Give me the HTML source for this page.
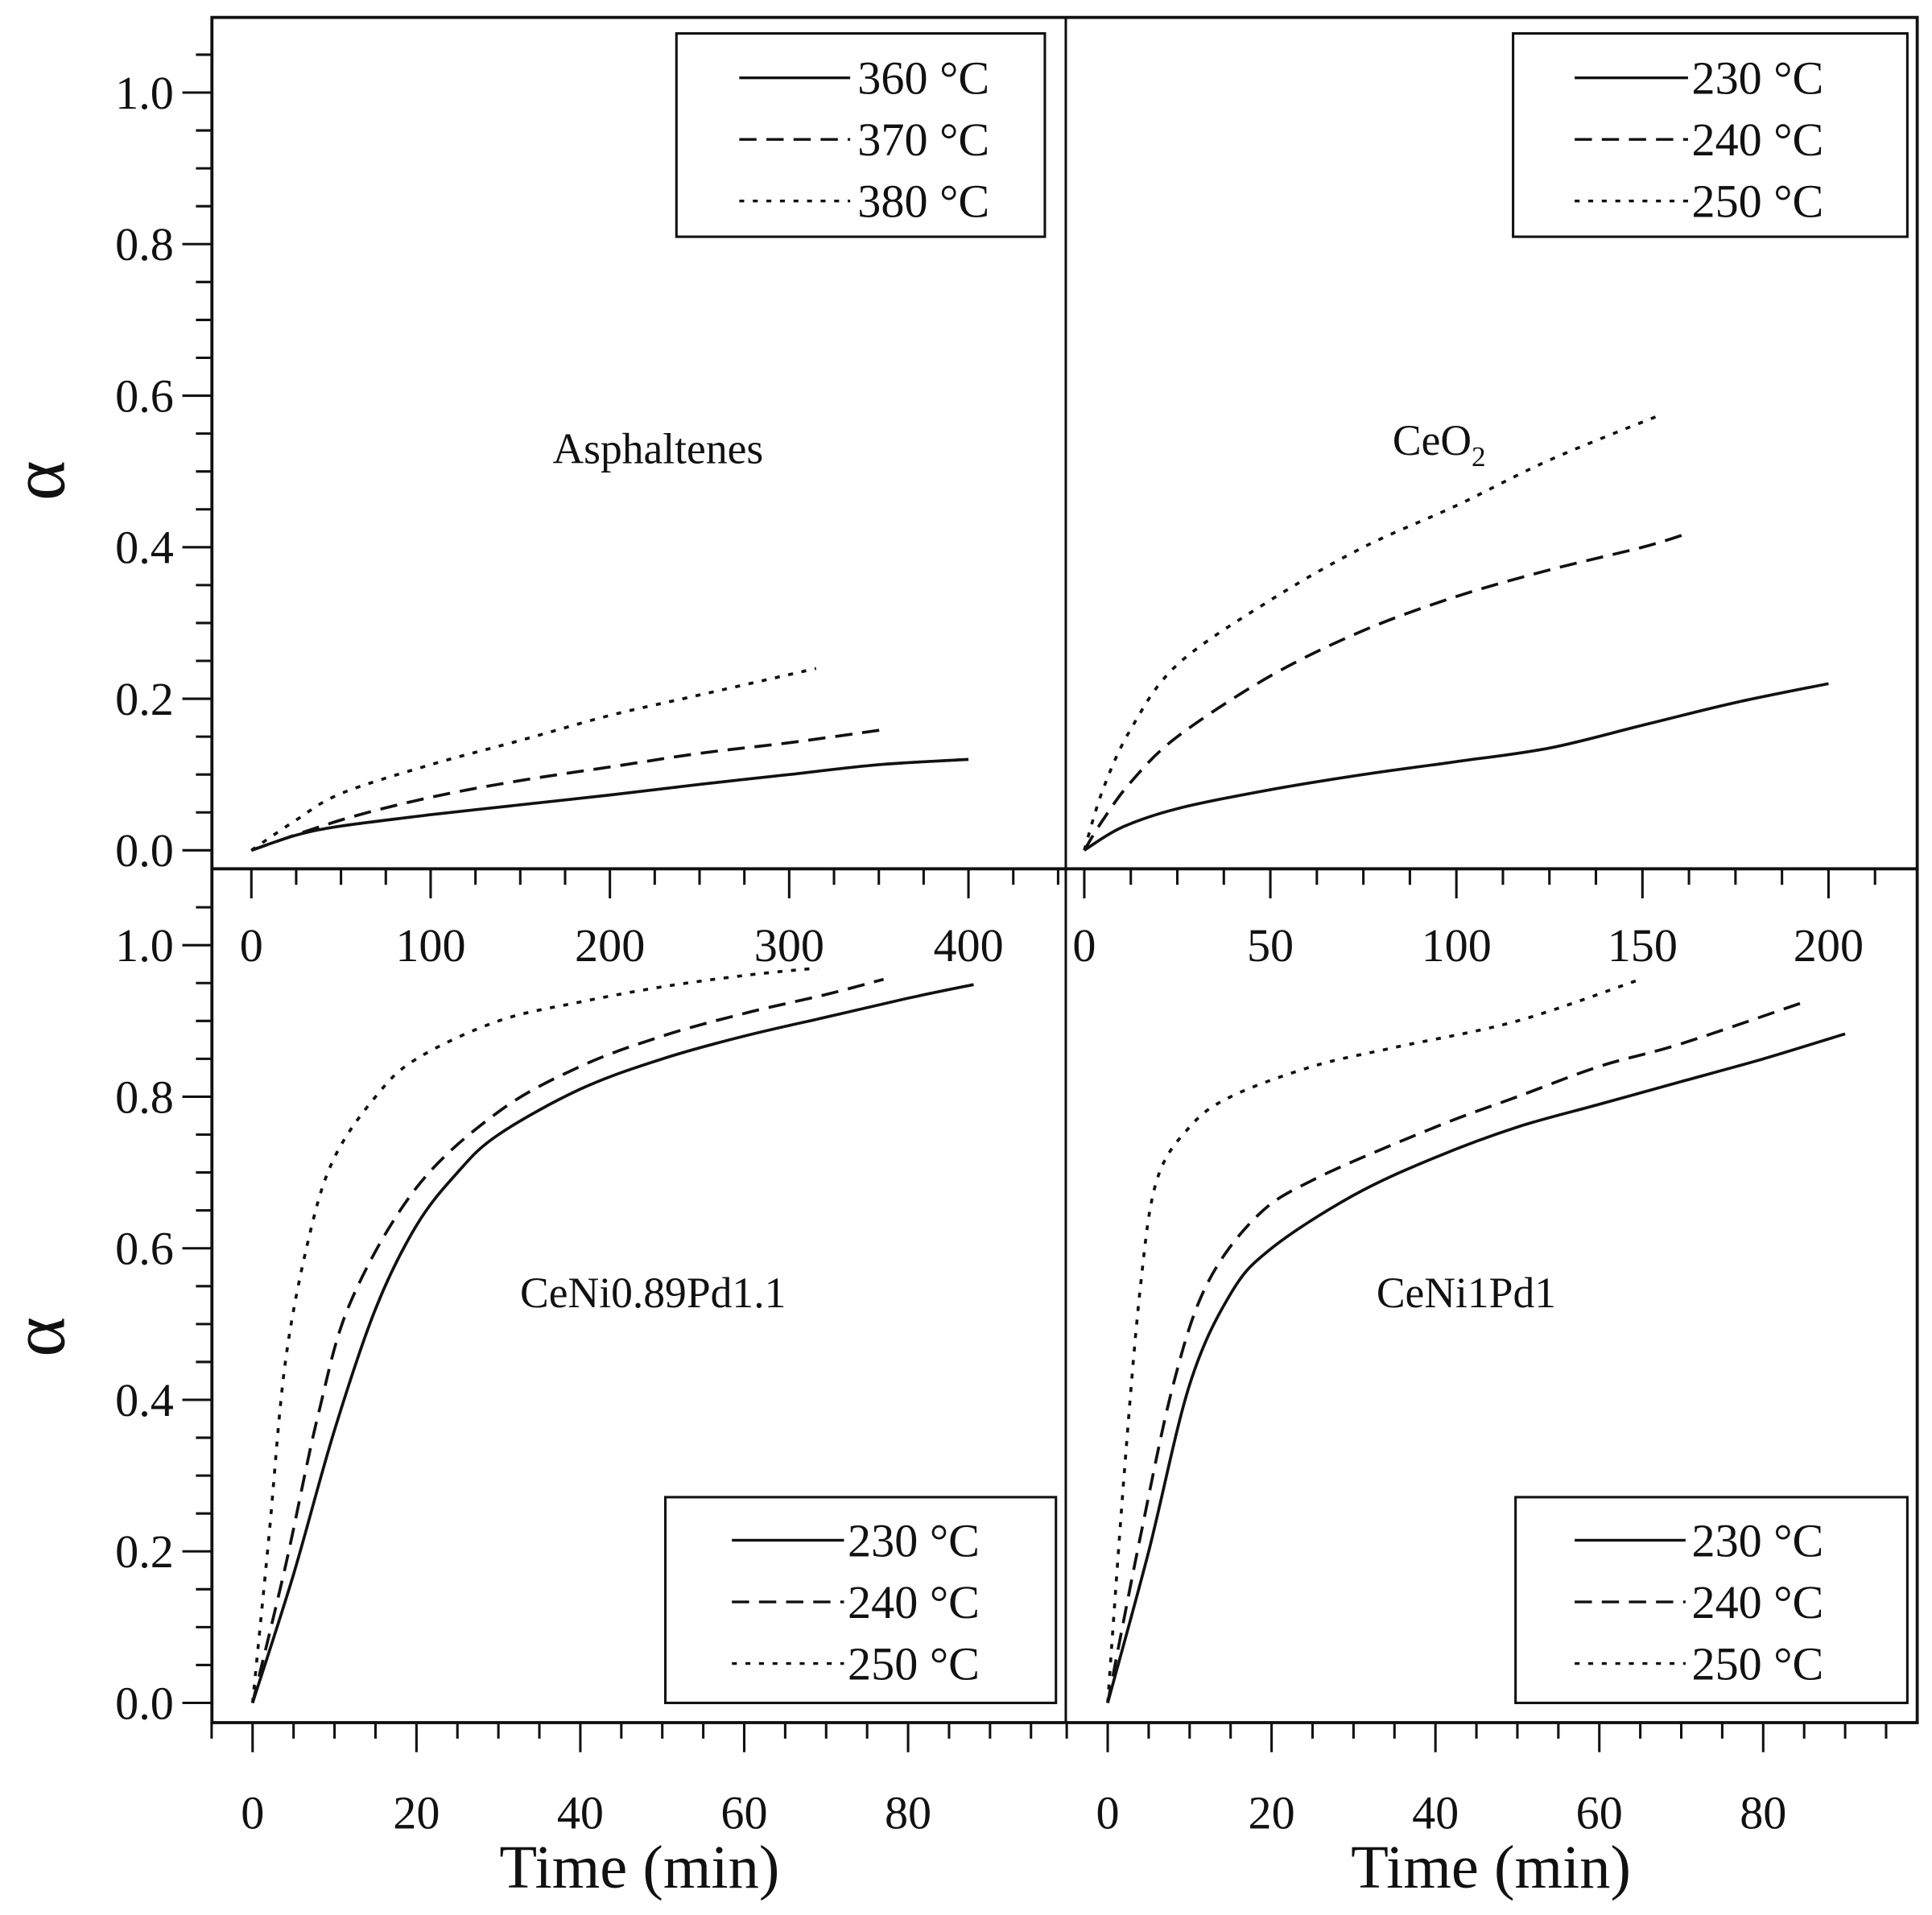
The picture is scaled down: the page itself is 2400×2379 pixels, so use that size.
<!DOCTYPE html>
<html><head><meta charset="utf-8"><style>
html,body{margin:0;padding:0;background:#fff}
svg{display:block}
text{font-family:"Liberation Serif",serif;fill:#111}
</style></head><body>
<svg id="chart" width="2400" height="2379" viewBox="0 0 1568 1554" xmlns="http://www.w3.org/2000/svg">
<g id="root"></g>
</svg>
<script>
// ---- data ----
const aspT360X=[0,25,50,100,150,200,250,300,350,400];
const aspT360Y=[0,0.02,0.032,0.047,0.06,0.073,0.087,0.1,0.113,0.12];
const aspT370X=[0,50,100,150,200,250,300,355];
const aspT370Y=[0,0.04,0.07,0.092,0.11,0.128,0.142,0.16];
const aspT380X=[0,25,50,100,150,200,250,315];
const aspT380Y=[0,0.04,0.075,0.113,0.145,0.178,0.205,0.24];
const ceoT230X=[0,10,25,50,75,100,125,150,175,200];
const ceoT230Y=[0,0.03,0.055,0.08,0.1,0.117,0.135,0.165,0.195,0.22];
const ceoT240X=[0,5,12.5,25,50,75,100,125,150,162];
const ceoT240Y=[0,0.04,0.09,0.15,0.23,0.29,0.335,0.37,0.4,0.418];
const ceoT250X=[0,5,12.5,25,50,75,100,125,155];
const ceoT250Y=[0,0.08,0.16,0.245,0.33,0.4,0.455,0.515,0.575];
const c89T230X=[0,5,10,15,20,25,30,40,50,60,70,80,88];
const c89T230Y=[0,0.17,0.36,0.52,0.63,0.7,0.75,0.81,0.85,0.88,0.905,0.93,0.948];
const c89T240X=[0,4,8,12,20,30,40,50,60,70,77];
const c89T240Y=[0,0.18,0.38,0.53,0.68,0.78,0.84,0.88,0.91,0.935,0.955];
const c89T250X=[0,2,4,7,10,15,20,30,40,50,60,69];
const c89T250Y=[0,0.22,0.45,0.62,0.72,0.8,0.85,0.9,0.925,0.945,0.96,0.97];
const c11T230X=[0,5,10,15,20,30,40,50,60,70,80,90];
const c11T230Y=[0,0.2,0.42,0.54,0.6,0.67,0.72,0.76,0.79,0.82,0.85,0.883];
const c11T240X=[0,4,8,12,18,25,40,50,60,70,85];
const c11T240Y=[0,0.22,0.42,0.55,0.64,0.69,0.76,0.8,0.84,0.87,0.925];
const c11T250X=[0,2,4,6,10,15,25,35,50,65];
const c11T250Y=[0,0.3,0.55,0.69,0.76,0.8,0.84,0.865,0.9,0.955];
const yTicks=[0,0.2,0.4,0.6,0.8,1.0];
const aspXTicks=[0,100,200,300,400];
const ceoXTicks=[0,50,100,150,200];
const botXTicks=[0,20,40,60,80];

const NS="http://www.w3.org/2000/svg";
const root=document.getElementById('root');
function el(tag,attrs,parent,txt){const e=document.createElementNS(NS,tag);for(const k in attrs)e.setAttribute(k,attrs[k]);if(txt!==undefined)e.textContent=txt;(parent||root).appendChild(e);return e;}
const dashes={solid:"",dash:"14,8",dot:"4,7"};
const TF=38;

const F={l:172,r:1556,t:14,m:705,b:1398,v:865};
let fr=el('rect',{x:F.l,y:F.t,width:F.r-F.l,height:F.b-F.t,fill:'none',stroke:'#111','stroke-width':2.5});

let hd=el('line',{x1:F.l,x2:F.r,y1:F.m,y2:F.m,stroke:'#111','stroke-width':2.5});

let vd=el('line',{x1:F.v,x2:F.v,y1:F.t,y2:F.b,stroke:'#111','stroke-width':2});


function yScale(y0px,y1px){return v=>y0px+(y1px-y0px)*v;}
function xScale(x0px,per,unit){return v=>x0px+v/unit*per;}

function yAxis(name,sy,top,bottom){
  const g=el('g',{});
  for(let v=-0.0;v<=1.1;v+=0.05){const y=sy(v);if(y<top||y>bottom)continue;
    const major=Math.abs(v*5-Math.round(v*5))<1e-6;
    el('line',{x1:F.l-(major?24:13),x2:F.l,y1:y,y2:y,stroke:'#111','stroke-width':2},g);}
  yTicks.forEach(v=>{const t=el('text',{x:141,y:sy(v)+13,'font-size':TF,'text-anchor':'end'},g,v.toFixed(1));
    });
  return g;
}
const syTop=yScale(690,75), syBot=yScale(1382,767);
yAxis('y-axis-top',syTop,F.t,F.m);
yAxis('y-axis-bottom',syBot,F.m,F.b);
[390,1085].forEach(y=>{const t=el('text',{x:0,y:0,'font-size':62,'text-anchor':'middle',transform:`translate(52,${y}) rotate(-90)`},root,'α');
  });

function xAxis(name,sx,xs,xe,ay,minorStep,ticks,labelY,rangeLo,rangeHi){
  const g=el('g',{});
  const majorStep=ticks[1]-ticks[0];
  for(let v=rangeLo;v<=rangeHi+1e-6;v+=minorStep){const x=sx(v);if(x<xs-1||x>xe+1)continue;
    const major=Math.abs(v/majorStep-Math.round(v/majorStep))<1e-6;
    el('line',{x1:x,x2:x,y1:ay,y2:ay+(major?24:13),stroke:'#111','stroke-width':2},g);}
  ticks.forEach(v=>{const t=el('text',{x:sx(v),y:labelY,'font-size':TF,'text-anchor':'middle'},g,String(v));
    });
}
const sxA=xScale(204,145.5,100), sxC=xScale(880,151,50), sxBL=xScale(205,133,20), sxBR=xScale(899,133,20);
xAxis('x-axis-asphaltenes',sxA,F.l,F.v,F.m,25,aspXTicks,780,-25,450);
xAxis('x-axis-ceo2',sxC,F.v,F.r,F.m,12.5,ceoXTicks,780,-12.5,225);
xAxis('x-axis-ceni089',sxBL,F.l,F.v,F.b,5,botXTicks,1484,-5,100);
xAxis('x-axis-ceni1',sxBR,F.v,F.r,F.b,5,botXTicks,1484,-5,100);
[519,1210].forEach(x=>{const t=el('text',{x:x,y:1532,'font-size':50,'text-anchor':'middle'},root,'Time (min)');
  });

function series(name,xs,ys,sx,sy,style){
  const P=xs.map((x,i)=>[sx(x),sy(ys[i])]);
  let d='M'+P[0][0].toFixed(1)+','+P[0][1].toFixed(1);
  for(let i=0;i<P.length-1;i++){
    const p0=P[Math.max(0,i-1)],p1=P[i],p2=P[i+1],p3=P[Math.min(P.length-1,i+2)];
    const c1=[p1[0]+(p2[0]-p0[0])/6,p1[1]+(p2[1]-p0[1])/6];
    const c2=[p2[0]-(p3[0]-p1[0])/6,p2[1]-(p3[1]-p1[1])/6];
    d+=` C${c1[0].toFixed(1)},${c1[1].toFixed(1)} ${c2[0].toFixed(1)},${c2[1].toFixed(1)} ${p2[0].toFixed(1)},${p2[1].toFixed(1)}`;
  }
  const p=el('path',{d:d,fill:'none',stroke:'#111','stroke-width':2.4,'stroke-dasharray':dashes[style],'stroke-linejoin':'round'});
  
}
series('asph-360',aspT360X,aspT360Y,sxA,syTop,'solid');
series('asph-370',aspT370X,aspT370Y,sxA,syTop,'dash');
series('asph-380',aspT380X,aspT380Y,sxA,syTop,'dot');
series('ceo2-230',ceoT230X,ceoT230Y,sxC,syTop,'solid');
series('ceo2-240',ceoT240X,ceoT240Y,sxC,syTop,'dash');
series('ceo2-250',ceoT250X,ceoT250Y,sxC,syTop,'dot');
series('ceni089-230',c89T230X,c89T230Y,sxBL,syBot,'solid');
series('ceni089-240',c89T240X,c89T240Y,sxBL,syBot,'dash');
series('ceni089-250',c89T250X,c89T250Y,sxBL,syBot,'dot');
series('ceni1-230',c11T230X,c11T230Y,sxBR,syBot,'solid');
series('ceni1-240',c11T240X,c11T240Y,sxBR,syBot,'dash');
series('ceni1-250',c11T250X,c11T250Y,sxBR,syBot,'dot');

function legend(name,x0,y0,x1,y1,l0,l1,tx,ys,labels){
  const g=el('g',{});
  el('rect',{x:x0,y:y0,width:x1-x0,height:y1-y0,fill:'#fff',stroke:'#111','stroke-width':2},g);
  ['solid','dash','dot'].forEach((s,i)=>{
    const ln=el('line',{x1:l0,x2:l1,y1:ys[i],y2:ys[i],stroke:'#111','stroke-width':2.2,'stroke-dasharray':dashes[s]},g);
    
    const t=el('text',{x:tx,y:ys[i]+13,'font-size':TF},g,labels[i]);
    });
}
legend('legend-asphaltenes',549,27,848,192,600,690,696,[63,113,163],['360 °C','370 °C','380 °C']);
legend('legend-ceo2',1228,27,1548,192,1278,1370,1373,[63,113,163],['230 °C','240 °C','250 °C']);
legend('legend-ceni089',540,1215,857,1382,594,685,688,[1250,1300,1350],['230 °C','240 °C','250 °C']);
legend('legend-ceni1',1230,1215,1548,1382,1278,1368,1373,[1250,1300,1350],['230 °C','240 °C','250 °C']);

function label(name,x,y,txt){const t=el('text',{x:x,y:y,'font-size':35,'text-anchor':'middle'},root,txt);
  return t;}
label('panel-label-asphaltenes',534,376,'Asphaltenes');
const ce=label('panel-label-ceo2',1168,369,'CeO');
el('tspan',{'font-size':23,dy:9},ce,'2');
label('panel-label-ceni089',530,1061,'CeNi0.89Pd1.1');
label('panel-label-ceni1',1190,1061,'CeNi1Pd1');
</script>
</body></html>
